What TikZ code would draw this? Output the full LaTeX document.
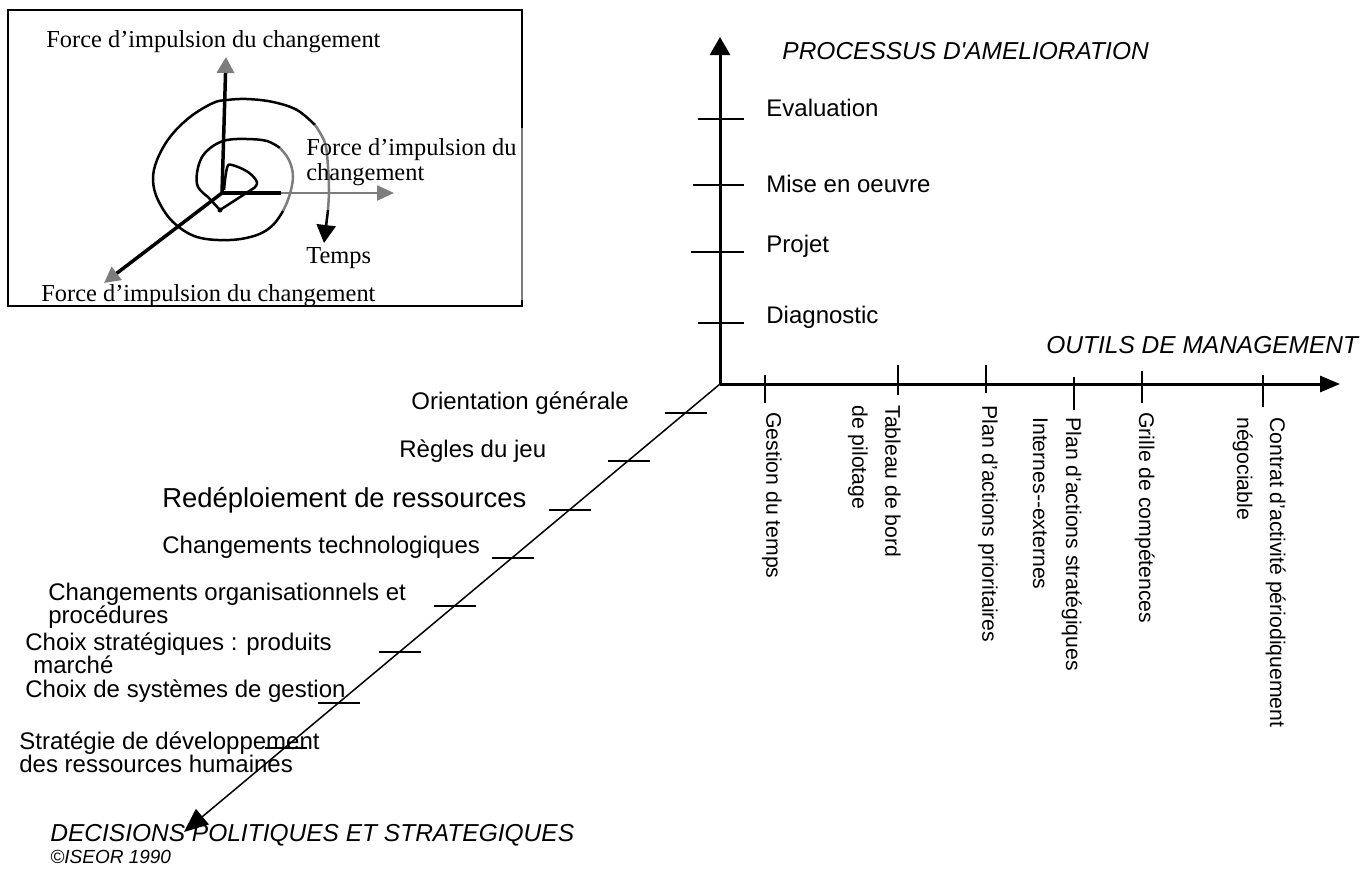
\documentclass[tikz,border=0pt]{standalone}
\usepackage{fontspec}
\setmainfont{Liberation Sans}
\newfontfamily\timesfont{Liberation Serif}
\usetikzlibrary{intersections,arrows.meta}

\begin{document}
\begin{tikzpicture}[x=0.5pt,y=-0.5pt,
    mainaxis/.style={line width=1.5pt},
    tickline/.style={line width=0.75pt},
    lab/.style={anchor=west,inner sep=0pt,align=left,font=\fontsize{12}{11.5}\selectfont},
    rlab/.style={rotate=-90,anchor=north west,inner sep=0pt,align=left,font=\fontsize{10.6}{16.5}\selectfont},
    ilab/.style={anchor=west,inner sep=0pt,align=left,font=\timesfont\fontsize{12.2}{12.5}\selectfont}]
\definecolor{my_gray}{RGB}{125,125,125}
\useasboundingbox (0,0) rectangle (1369,868);

\coordinate (O) at (720,384);
\coordinate (P_top) at (720,37);
\coordinate (T_end) at (1340,384);
\coordinate (D_end) at (184,832);
\draw[mainaxis,-{Triangle[length=9pt,width=10pt]}] (O) -- (P_top);
\draw[mainaxis,-{Triangle[length=10pt,width=8pt]}] (O) -- (T_end);
\draw[name path=OD,tickline,-{Triangle[length=12pt,width=10pt]}] (O) -- (D_end);

\node[lab,font=\itshape\fontsize{12.25}{14}\selectfont] (proc) at (782,51) {PROCESSUS D\textquotesingle AMELIORATION};
\node[lab,font=\itshape\fontsize{12.25}{14}\selectfont] (tools) at (1046,345) {OUTILS DE MANAGEMENT};
\node[lab,font=\itshape\fontsize{12.25}{14}\selectfont] (decs) at (50,835) {DECISIONS POLITIQUES ET STRATEGIQUES};
\node[lab,font=\itshape\fontsize{9.5}{11}\selectfont] (copy) at (50,857) {©ISEOR 1990};

\foreach \yt/\xl/\yl/\A [count=\xi] in {119/698/108/Evaluation,185/693/184/Mise en oeuvre,252/691/246/Projet,323/698/317/Diagnostic}{
  \draw[tickline] (\xl,\yt) -- (744,\yt);
  \node[lab] (proc\xi) at (766,\yl) {\A};
}

\foreach \x/\ya/\yb/\xr/\yr/\A [count=\xi] in {
    765/375/403/782/412/{Gestion du temps},
    898/365/395/901/405/{Tableau de bord\\de pilotage},
    986/365/393/998/405/{Plan d’actions prioritaires},
    1074/377/410/1082/417/{Plan d’actions stratégiques\\Internes-\kern0pt-externes},
    1142/371/403/1155/412/{Grille de compétences},
    1263/375/407/1286/417/{Contrat d’activité périodiquement\\négociable}}{
  \draw[tickline] (\x,\ya) -- (\x,\yb);
  \node[rlab] (tool\xi) at (\xr,\yr) {\A};
}

\foreach \y/\xl/\yl/\A [count=\xi] in {
    413/411/403/{Orientation générale},
    461/399/451/{Règles du jeu},
    510/162/500/{\fontsize{13.7}{15}\selectfont Redéploiement de ressources},
    558/162/547/{Changements technologiques},
    606/48/606/{Changements organisationnels et\\procédures},
    652/25/653/{Choix stratégiques : produits\\\hspace*{4pt}marché},
    703/25/691/{Choix de systèmes de gestion},
    748/19/752/{Stratégie de développement\\des ressources humaines}}{
  \path[name path=horiz] (0,\y) -- (1369,\y);
  \draw[tickline,name intersections={of=OD and horiz,by=Q}] ([xshift=-10pt]Q) -- ([xshift=11pt]Q);
  \node[lab] (dec\xi) at (\xl,\yl) {\A};
}

% inset
\draw[line width=0.8pt] (8,10) rectangle (522,306);
\draw[my_gray,line width=0.8pt] (522,128) -- (522,300);
\coordinate (c) at (222,193);
\draw[line width=1.75pt,-{Triangle[length=8pt,width=8.5pt,color=my_gray]}] (c) -- (226,57);
\draw[line width=1.75pt] (c) -- (281,193);
\draw[my_gray,line width=1.2pt,-{Triangle[length=8.5pt,width=7.5pt]}] (281,193) -- (394,193);
\draw[line width=1.75pt,-{Triangle[length=8pt,width=8pt,color=my_gray]}] (c) -- (104,283);

\draw[line width=1.25pt,line join=round] plot[smooth,tension=0.6] coordinates {(224,190) (227,168) (232,165) (248,172) (257,182) (254,188)}
  -- (220,210) -- (208,197)
  -- plot[smooth,tension=0.6] coordinates {(208,197) (198,187) (197,173) (202,157) (213,146) (227,140) (247,139) (267,141) (280,148)};
\draw[my_gray,line width=1.25pt] plot[smooth,tension=0.6] coordinates {(280,148) (289,160) (293,177) (289,197) (283,211)};
\draw[line width=1.25pt] plot[smooth,tension=0.6] coordinates {(283,211) (273,225) (257,235) (230,240) (197,237) (173,222) (158,200) (153,180) (157,160) (170,137) (190,117) (213,103) (227,100) (247,99) (273,102) (297,110) (315,125)};
\draw[my_gray,line width=1.25pt] plot[smooth,tension=0.6] coordinates {(315,125) (325,143) (328,167) (329,190) (328,210)};
\draw[line width=1.25pt,-{Triangle[length=9pt,width=9.5pt]}] (328,210) -- (324,243);
\fill (220,210) circle[radius=2.5];

\node[ilab] (f_up) at (46,42) {Force d’impulsion du changement};
\node[ilab] (f_right) at (306,162) {Force d’impulsion du\\changement};
\node[ilab] (temps) at (306,258) {Temps};
\node[ilab] (f_down) at (41,296) {Force d’impulsion du changement};
\end{tikzpicture}
\end{document}
